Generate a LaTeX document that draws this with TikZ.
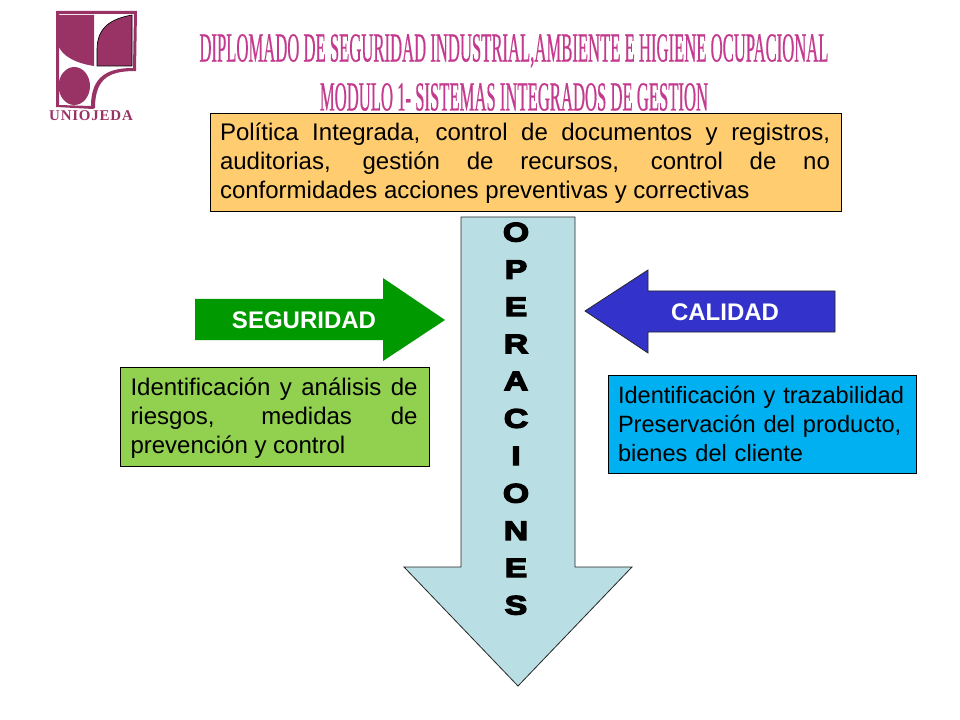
\documentclass[tikz,border=0pt]{standalone}
\usepackage{fontspec}
\setmainfont{Liberation Sans}
\newfontfamily\titlefont[FakeStretch=0.403,FakeBold=0.4]{Liberation Serif}
\newfontfamily\logofont{Liberation Serif}
\font\heavyfont="Liberation Sans/B:embolden=5;extend=1.27" at 20pt
\definecolor{plum}{HTML}{993366}
\definecolor{titlepink}{HTML}{C43A8E}
\definecolor{orangebox}{HTML}{FFCC6F}
\definecolor{greenbox}{HTML}{92D050}
\definecolor{bluebox}{HTML}{00B0F0}
\definecolor{paleblue}{HTML}{B9DEE3}
\definecolor{arrowgreen}{HTML}{009900}
\definecolor{arrowblue}{HTML}{3333CC}
\tikzset{
  panel/.style={draw=black,line width=0.6pt,inner sep=0pt,outer sep=0pt,anchor=north west},
  bodytext/.style={font=\fontsize{18}{21.8}\selectfont,align=justify},
  shapeline/.style={draw=black!85,line width=0.6pt},
  arrowlabel/.style={font=\fontsize{18}{20}\selectfont\bfseries,text=white},
  titletext/.style={font=\fontsize{31}{32}\titlefont,text=titlepink}
}
\begin{document}
\begin{tikzpicture}[x=0.75pt,y=-0.75pt]
\useasboundingbox (0,0) rectangle (960,720);
\fill[white] (0,0) rectangle (960,720);
% logo
\fill[plum,even odd rule]
  (56,11) -- (137,11) -- (136,71) .. controls (112,71) and (95,76) .. (95,108) -- (93,109) -- (56,107) -- cycle
  (59,14) -- (59,105) -- (91,106) .. controls (91,76) and (108,68) .. (133,68) -- (134,14) -- cycle;
\fill[plum] (58,15) -- (94,15) -- (94,66) .. controls (75,63) and (62,56) .. (58,45) -- cycle;
\fill[plum,draw=black,line width=0.5pt] (97,66) -- (132,66) -- (132,15) .. controls (110,19) and (97,28) .. (97,50) -- cycle;
\fill[plum] (74.3,86) ellipse [x radius=15.7,y radius=19];
\node[font=\fontsize{11.2}{12}\logofont\bfseries,text=plum,inner sep=0pt] (logotext) at (91,116) {U\kern0.6pt N\kern0.6pt I\kern0.6pt O\kern0.6pt J\kern0.6pt E\kern0.6pt D\kern0.6pt A};
% titles
\node[titletext,inner sep=0pt] (title1) at (514,51) {DIPLOMADO DE SEGURIDAD INDUSTRIAL,AMBIENTE  E HIGIENE OCUPACIONAL};
\node[titletext,inner sep=0pt] (title2) at (514,97) {MODULO 1- SISTEMAS INTEGRADOS DE GESTION};
% top box
\node[panel,fill=orangebox,minimum width=631*0.75pt,minimum height=98*0.75pt] (topbox) at (210,113) {};
\node[bodytext,text width=610*0.75pt,inner sep=0pt] (toptext) at (525,163) {Política Integrada, control de documentos y registros,\linebreak auditorias, gestión de recursos, control de no\linebreak conformidades acciones preventivas y correctivas};
% down arrow
\draw[shapeline,fill=paleblue] (461,217) -- (575,217) -- (575,567) -- (632,567) -- (518,686) -- (404,567) -- (461,567) -- cycle;
\node[font=\heavyfont,align=center,inner sep=0pt,anchor=north] (ops) at (516,222.5) {O\\[13.1pt]P\\[13.1pt]E\\[13.1pt]R\\[13.1pt]A\\[13.1pt]C\\[13.1pt]I\\[13.1pt]O\\[13.1pt]N\\[13.1pt]E\\[13.1pt]S};
% side arrows
\fill[arrowgreen] (195,299) -- (383,299) -- (383,278) -- (445,320) -- (383,361) -- (383,340) -- (195,340) -- cycle;
\node[arrowlabel,inner sep=0pt] (seg) at (304,320) {SEGURIDAD};
\draw[shapeline,fill=arrowblue] (585,311) -- (648,270) -- (648,291) -- (835,291) -- (835,332) -- (648,332) -- (648,353) -- cycle;
\node[arrowlabel,inner sep=0pt] (cal) at (725,312) {CALIDAD};
% green box
\node[panel,fill=greenbox,minimum width=309*0.75pt,minimum height=99*0.75pt] (greenrect) at (120,367) {};
\node[bodytext,text width=287*0.75pt,inner sep=0pt] (greentext) at (274,418) {Identificación y análisis de\linebreak riesgos, medidas de\linebreak prevención y control};
% blue box
\node[panel,fill=bluebox,minimum width=308*0.75pt,minimum height=98*0.75pt] (bluerect) at (608,375) {};
\node[font=\fontsize{17.7}{21.8}\selectfont,text width=290*0.75pt,inner sep=0pt,align=left] (bluetext) at (763,424) {Identificación y trazabilidad\\Preservación del producto,\\bienes del cliente};
\end{tikzpicture}
\end{document}
